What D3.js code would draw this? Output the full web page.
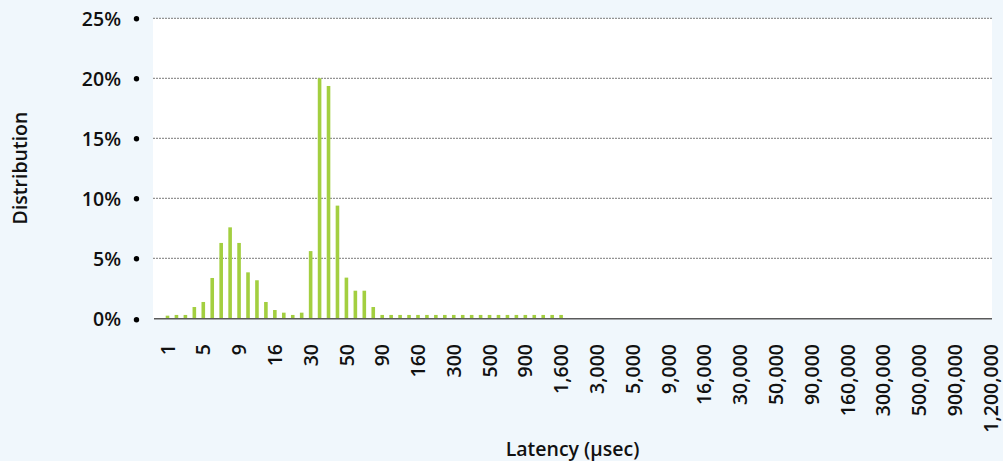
<!DOCTYPE html>
<html>
<head>
<meta charset="utf-8">
<script src="https://cdn.jsdelivr.net/npm/d3@7/dist/d3.min.js"></script>
<style>
  html, body { margin: 0; padding: 0; background: #f0f7fc; }
  svg { display: block; }
  text { font-family: "Open Sans", "Noto Sans", sans-serif; font-weight: 600; fill: #111; }
</style>
</head>
<body>
<svg id="chart" width="1003" height="461"></svg>
<script>
// Latency buckets (µsec)
const categories = [
  1, 2, 3, 4, 5, 6, 7, 8, 9, 10, 12, 14, 16, 18, 20, 25,
  30, 35, 40, 45, 50, 60, 70, 80, 90, 100, 120, 140, 160, 180, 200, 250,
  300, 350, 400, 450, 500, 600, 700, 800, 900, 1000, 1200, 1400,
  1600, 1800, 2000, 2500, 3000, 3500, 4000, 4500, 5000, 6000, 7000, 8000,
  9000, 10000, 12000, 14000, 16000, 18000, 20000, 25000, 30000, 35000, 40000, 45000,
  50000, 60000, 70000, 80000, 90000, 100000, 120000, 140000, 160000, 180000, 200000, 250000,
  300000, 350000, 400000, 450000, 500000, 600000, 700000, 800000, 900000, 1000000, 1100000, 1150000, 1200000
];
// Distribution (fraction) per bucket
const distribution = [
  0.0022, 0.0028, 0.0028, 0.0094, 0.0136, 0.0336, 0.0628, 0.0758, 0.0628, 0.0383, 0.0317, 0.0136, 0.0069, 0.0047, 0.0028, 0.0047,
  0.056, 0.200, 0.1936, 0.0939, 0.0339, 0.023, 0.023, 0.0094, 0.0028, 0.0028, 0.0028, 0.0028, 0.0028, 0.0028, 0.0028, 0.0028,
  0.0028, 0.0028, 0.0028, 0.0028, 0.0028, 0.0028, 0.0028, 0.0028, 0.0028, 0.0028, 0.0028, 0.0028,
  0.0028, 0, 0, 0, 0, 0, 0, 0, 0, 0, 0, 0,
  0, 0, 0, 0, 0, 0, 0, 0, 0, 0, 0, 0,
  0, 0, 0, 0, 0, 0, 0, 0, 0, 0, 0, 0,
  0, 0, 0, 0, 0, 0, 0, 0, 0, 0, 0, 0, 0
];
const yTicks = [0, 0.05, 0.10, 0.15, 0.20, 0.25];
const xTickLabels = categories.filter((d, i) => i % 4 === 0);
const xTitle = "Latency (µsec)";
const yTitle = "Distribution";

const FONT = "'Open Sans', 'Noto Sans', sans-serif";
const svg = d3.select("#chart");
const plot = { left: 153, right: 992, top: 18.3, bottom: 318.3 };

const x = d3.scalePoint().domain(categories).range([167.5, 990.5]);
const y = d3.scaleLinear().domain([0, 0.25]).range([plot.bottom, plot.top]);
const barW = 3.6;

// plot background
svg.append("rect")
  .attr("x", plot.left).attr("y", plot.top)
  .attr("width", plot.right - plot.left).attr("height", plot.bottom - plot.top)
  .attr("fill", "#ffffff");

// gridlines
svg.append("g").selectAll("line")
  .data(yTicks.filter(d => d > 0))
  .join("line")
  .attr("x1", plot.left).attr("x2", plot.right)
  .attr("y1", d => y(d)).attr("y2", d => y(d))
  .attr("stroke", "#7a7a7a").attr("stroke-width", 1)
  .attr("stroke-dasharray", "2,1");

// bars
svg.append("g").selectAll("rect")
  .data(categories.map((c, i) => ({ c, v: distribution[i] })))
  .join("rect")
  .attr("x", d => x(d.c) - barW / 2)
  .attr("width", barW)
  .attr("y", d => y(d.v))
  .attr("height", d => y(0) - y(d.v))
  .attr("fill", "#a3cf40");

// x axis line
svg.append("line")
  .attr("x1", plot.left + 1).attr("x2", plot.right)
  .attr("y1", y(0) + 0.5).attr("y2", y(0) + 0.5)
  .attr("stroke", "#5a5a5a").attr("stroke-width", 1.5);

// y axis
const yAxis = d3.axisLeft(y).tickValues(yTicks).tickFormat(d3.format(".0%")).tickSize(0).tickPadding(0);
const yg = svg.append("g").attr("transform", "translate(121,0)").call(yAxis);
yg.select(".domain").remove();
yg.selectAll("text").attr("font-size", 19.5).attr("dy", "0.38em")
  .style("font-family", FONT).style("font-weight", 600).attr("fill", "#111");
svg.append("g").selectAll("circle")
  .data(yTicks)
  .join("circle")
  .attr("cx", 136.5).attr("cy", d => y(d) + (d === 0 ? 1.5 : 0.5))
  .attr("r", 2.7).attr("fill", "#000");

// x axis labels
const xAxis = d3.axisBottom(x).tickValues(xTickLabels).tickFormat(d3.format(",")).tickSize(0).tickPadding(0);
const xg = svg.append("g").attr("transform", "translate(0,344)").call(xAxis);
xg.select(".domain").remove();
xg.selectAll("text")
  .attr("font-size", 19.5)
  .attr("text-anchor", "end")
  .attr("transform", "rotate(-90)")
  .attr("x", 0).attr("y", 0).attr("dy", "0.34em")
  .style("font-family", FONT).style("font-weight", 600).attr("fill", "#111");

// titles
svg.append("text")
  .attr("x", (plot.left + plot.right) / 2).attr("y", 455.5)
  .attr("text-anchor", "middle").attr("font-size", 19.5)
  .text(xTitle);
svg.append("text")
  .attr("transform", "translate(27,168) rotate(-90)")
  .attr("text-anchor", "middle").attr("font-size", 19.5)
  .text(yTitle);
</script>
</body>
</html>
